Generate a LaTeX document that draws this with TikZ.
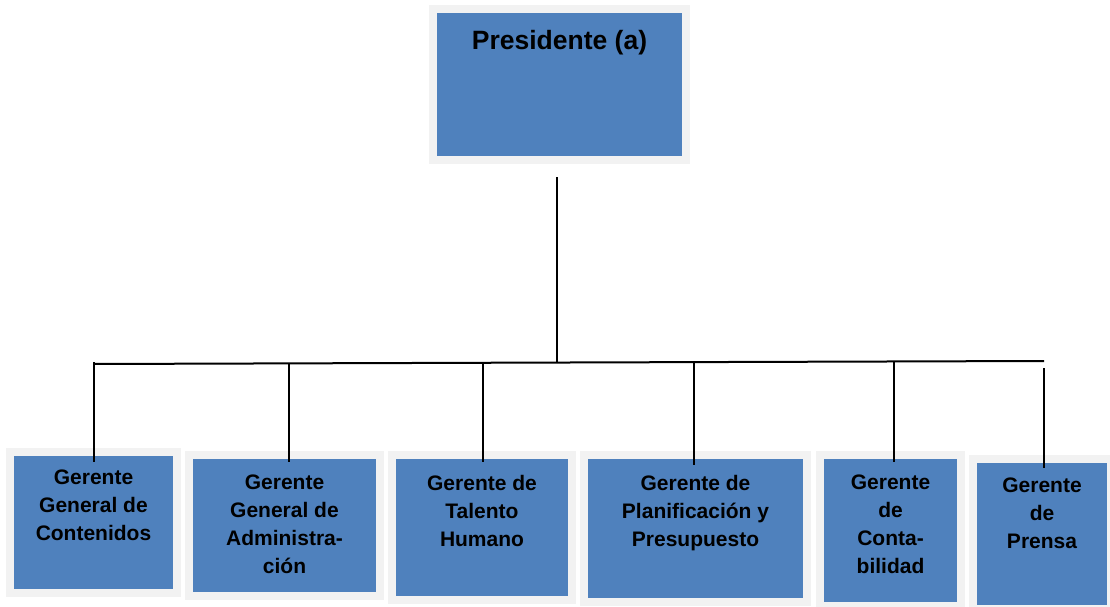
\documentclass[tikz,border=0pt]{standalone}
\usepackage{fontspec}
\setmainfont{Liberation Sans}
\usetikzlibrary{positioning}
\definecolor{azulcaja}{HTML}{4F81BD}
\definecolor{marco}{HTML}{F2F2F2}
\tikzset{
	caja/.style={fill=azulcaja, preaction={draw=marco, line width=16pt}, inner sep=0pt},
	texto/.style={font=\bfseries\fontsize{21}{28}\selectfont, align=center, inner sep=0pt},
	linea/.style={draw=black, line width=2pt}
}

\begin{document}
\begin{tikzpicture}[x=1pt, y=-1pt]

	\clip (0,0) rectangle (1110,607);

	\node[caja, minimum width=245pt, minimum height=143pt] (pres) at (559.5,84.5) {};
	\node[font=\bfseries\fontsize{26.5}{32}\selectfont, inner sep=0pt, below=17pt of pres.north] (tpres) {Presidente (a)};

	\node[caja, minimum width=159pt, minimum height=133pt] (g1) at (93.5,522.5) {};
	\node[caja, minimum width=183pt, minimum height=133pt] (g2) at (284.5,525.5) {};
	\node[caja, minimum width=172pt, minimum height=137pt] (g3) at (482,527.5) {};
	\node[caja, minimum width=215pt, minimum height=139pt] (g4) at (695.5,528.5) {};
	\node[caja, minimum width=133pt, minimum height=143pt] (g5) at (890.5,530.5) {};
	\node[caja, minimum width=130pt, minimum height=142pt] (g6) at (1042,534) {};

	\node[texto, below=14pt of g1.north] (t1) {Gerente\\General de\\Contenidos};
	\node[texto, below=16pt of g2.north] (t2) {Gerente\\General de\\Administra-\\ción};
	\node[texto, below=16pt of g3.north] (t3) {Gerente de\\Talento\\Humano};
	\node[texto, below=16pt of g4.north] (t4) {Gerente de\\Planificación y\\Presupuesto};
	\node[texto, below=16pt of g5.north] (t5) {Gerente\\de\\Conta-\\bilidad};
	\node[texto, below=15pt of g6.north] (t6) {Gerente\\de\\Prensa};

	\coordinate (pbase) at (557,177);
	\coordinate (pbus) at (557,362);
	\coordinate (busi) at (94,364);
	\coordinate (busd) at (1044,361);

	\coordinate (s1) at (94,362);
	\coordinate (s2) at (289,363);
	\coordinate (s3) at (483,362);
	\coordinate (s4) at (694,363);
	\coordinate (s5) at (894,362);
	\coordinate (s6) at (1044,368);

	\coordinate (e1) at (94,462);
	\coordinate (e2) at (289,462);
	\coordinate (e3) at (483,462);
	\coordinate (e4) at (694,465);
	\coordinate (e5) at (894,462);
	\coordinate (e6) at (1044,468);

	\draw[linea] (pbase) -- (pbus);
	\draw[linea] (busi) -- (busd);

	\draw[linea] (s1) -- (e1);
	\draw[linea] (s2) -- (e2);
	\draw[linea] (s3) -- (e3);
	\draw[linea] (s4) -- (e4);
	\draw[linea] (s5) -- (e5);
	\draw[linea] (s6) -- (e6);

\end{tikzpicture}
\end{document}
